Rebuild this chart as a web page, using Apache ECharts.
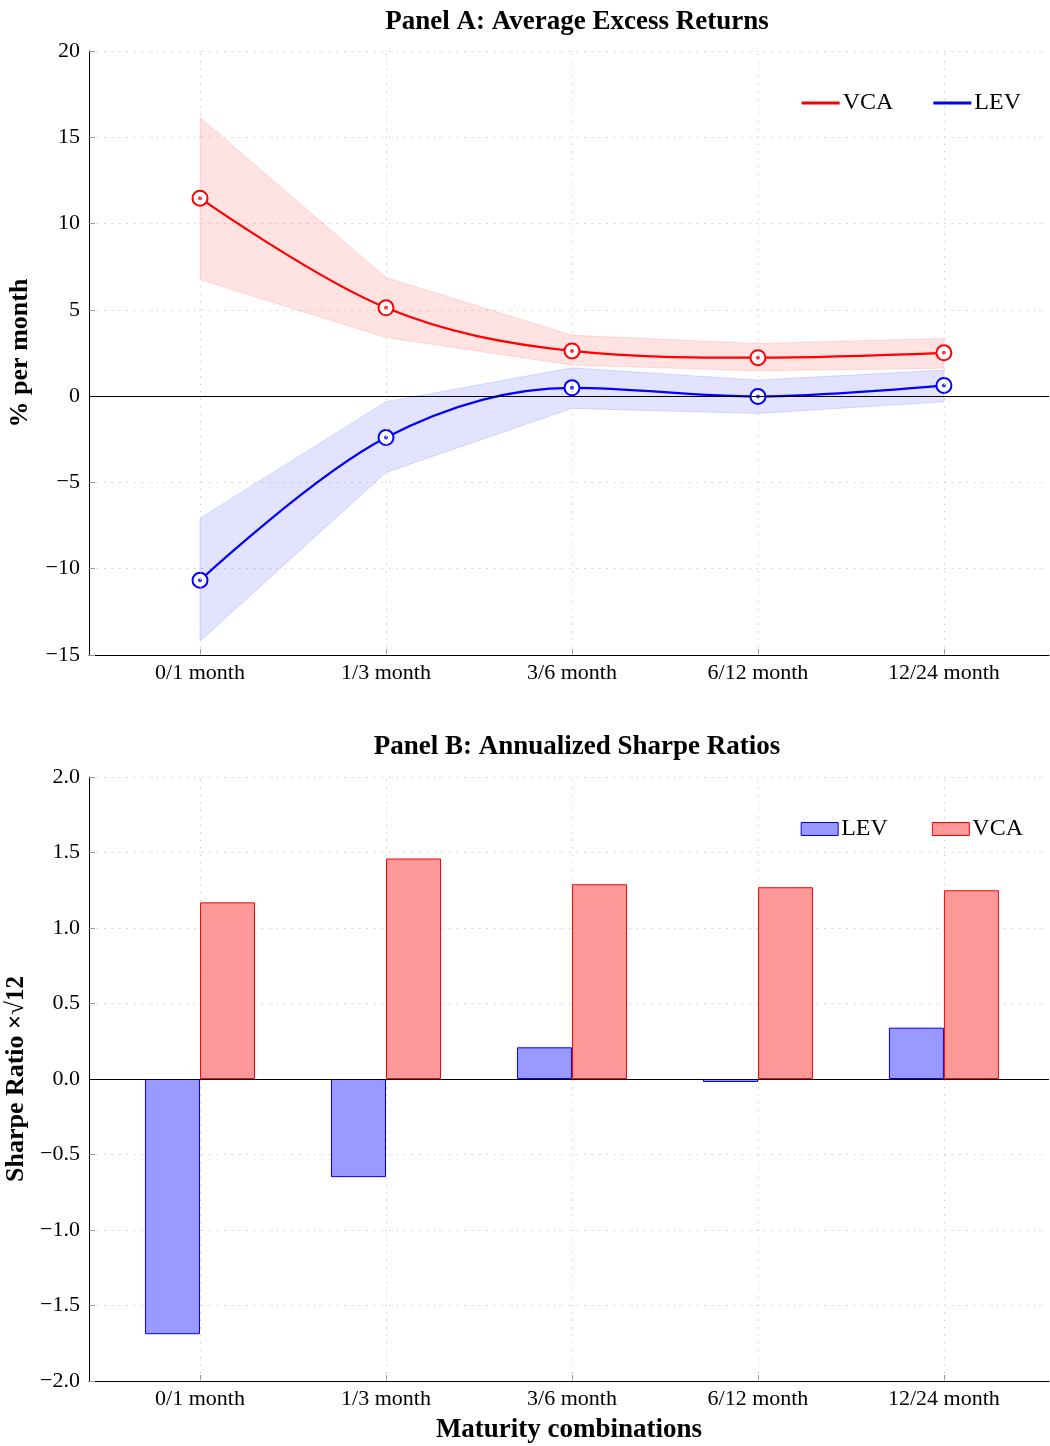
<!DOCTYPE html>
<html>
<head>
<meta charset="utf-8">
<script src="https://cdn.jsdelivr.net/npm/echarts@6/dist/echarts.min.js"></script>
<style>html,body{margin:0;padding:0;background:#fff}#c{width:1050px;height:1446px}</style>
</head>
<body>
<div id="c"></div>
<script>
// ---- data ----
const categories = ['0/1 month', '1/3 month', '3/6 month', '6/12 month', '12/24 month'];
// Panel A: average excess returns (% per month) with confidence bands
const vcaMean  = [11.47, 5.12, 2.62, 2.23, 2.51];
const vcaUpper = [16.15, 6.87, 3.53, 3.05, 3.34];
const vcaLower = [6.75, 3.40, 1.80, 1.47, 1.62];
const levMean  = [-10.67, -2.40, 0.48, -0.02, 0.62];
const levUpper = [-7.07, -0.32, 1.64, 0.93, 1.51];
const levLower = [-14.20, -4.42, -0.71, -1.00, -0.33];
// Panel B: annualized Sharpe ratios
const levSharpe = [-1.69, -0.65, 0.21, -0.02, 0.34];
const vcaSharpe = [1.17, 1.46, 1.29, 1.27, 1.25];
// tick labels
const yTicksA = [-15, -10, -5, 0, 5, 10, 15, 20];
const yTicksB = [-2.0, -1.5, -1.0, -0.5, 0.0, 0.5, 1.0, 1.5, 2.0];

// ---- chart ----
const FONT = 'Liberation Serif';
const idx = categories.map((c, i) => i);
const pairs = arr => arr.map((v, i) => [i, v]);
const minus = s => String(s).replace('-', '\u2212');

function bandSeries(lower, upper, fill, stroke) {
  return {
    type: 'custom', xAxisIndex: 0, yAxisIndex: 0, z: 1, silent: true,
    data: lower.map((v, i) => [i, v, upper[i]]),
    encode: { x: 0, y: [1, 2] },
    renderItem: function (params, api) {
      if (params.dataIndex !== 0) return null;
      const pts = [];
      for (let i = 0; i < upper.length; i++) pts.push(api.coord([i, upper[i]]));
      for (let i = lower.length - 1; i >= 0; i--) pts.push(api.coord([i, lower[i]]));
      return { type: 'polygon', shape: { points: pts }, style: { fill: fill, stroke: stroke, lineWidth: 1 } };
    }
  };
}

const gridLineStyle = { color: '#cfcfcf', type: [1.5, 6], width: 1 };
const vGrid = idx.map(i => ({ xAxis: i, lineStyle: gridLineStyle }));
const zeroLine = { yAxis: 0, lineStyle: { color: '#000', type: 'solid', width: 1 } };
const refLinesA = { silent: true, symbol: 'none', label: { show: false }, data: vGrid.concat([zeroLine]) };
const refLinesB = { silent: true, symbol: 'none', label: { show: false }, z: 1, data: vGrid };
const zeroLinesB = { silent: true, symbol: 'none', label: { show: false }, z: 5, data: [zeroLine] };

function xAxisDef(gridIndex) {
  return {
    type: 'value', gridIndex: gridIndex, min: -0.597, max: 4.565,
    axisLine: { onZero: false, lineStyle: { color: '#000', width: 1 } },
    axisTick: { customValues: idx, inside: true, length: 6, lineStyle: { color: '#999' } },
    axisLabel: { customValues: idx, formatter: v => categories[Math.round(v)], fontFamily: FONT, fontSize: 22, color: '#000', margin: 7 },
    splitLine: { show: false }
  };
}
function yAxisDef(gridIndex, min, max, interval, fmt, name) {
  return {
    type: 'value', gridIndex: gridIndex, min: min, max: max, interval: interval,
    axisLine: { show: true, onZero: false, lineStyle: { color: '#000', width: 1 } },
    axisTick: { show: true, inside: true, length: 6, lineStyle: { color: '#999' } },
    axisLabel: { formatter: fmt, fontFamily: FONT, fontSize: 22, color: '#000', margin: 9 },
    splitLine: { show: true, lineStyle: gridLineStyle },
    name: name, nameLocation: 'middle', nameGap: 56, nameRotate: 90,
    nameTextStyle: {
      fontFamily: FONT, fontSize: 26, fontWeight: 'bold', color: '#000',
      rich: {
        b: { fontFamily: FONT, fontSize: 26, fontWeight: 'bold', color: '#000' },
        n: { fontFamily: FONT, fontSize: 25, color: '#000' }
      }
    }
  };
}

const option = {
  animation: false,
  backgroundColor: '#fff',
  title: [
    { text: 'Panel A: Average Excess Returns', left: 572, textAlign: 'center', top: 4,
      textStyle: { fontFamily: FONT, fontSize: 27, fontWeight: 'bold', color: '#000' } },
    { text: 'Panel B: Annualized Sharpe Ratios', left: 572, textAlign: 'center', top: 729,
      textStyle: { fontFamily: FONT, fontSize: 27, fontWeight: 'bold', color: '#000' } }
  ],
  legend: [
    { top: 86, right: 24, itemGap: 40, itemWidth: 38, itemHeight: 3, icon: 'rect',
      textStyle: { fontFamily: FONT, fontSize: 24, color: '#000', padding: [0, 0, 0, -2] },
      data: [
        { name: 'VCA', itemStyle: { color: '#ff0000' } },
        { name: 'LEV', itemStyle: { color: '#0000ff' } }
      ] },
    { top: 812, right: 22, itemGap: 44, itemWidth: 37, itemHeight: 13, icon: 'rect',
      formatter: n => n.replace('_B', ''),
      textStyle: { fontFamily: FONT, fontSize: 24, color: '#000', padding: [0, 0, 0, -2] },
      data: [
        { name: 'LEV_B', itemStyle: { color: '#9999ff', borderColor: '#0000ff', borderWidth: 1 } },
        { name: 'VCA_B', itemStyle: { color: '#ff9999', borderColor: '#ff0000', borderWidth: 1 } }
      ] }
  ],
  grid: [
    { left: 89, top: 51, width: 960, height: 604, containLabel: false, outerBoundsMode: 'none' },
    { left: 89, top: 777, width: 960, height: 604, containLabel: false, outerBoundsMode: 'none' }
  ],
  xAxis: [
    xAxisDef(0),
    Object.assign(xAxisDef(1), { name: 'Maturity combinations', nameLocation: 'middle', nameGap: 36,
      nameTextStyle: { fontFamily: FONT, fontSize: 27, fontWeight: 'bold', color: '#000' } })
  ],
  yAxis: [
    yAxisDef(0, -15, 20, 5, v => minus(v), '% per month'),
    yAxisDef(1, -2, 2, 0.5, v => minus(v.toFixed(1)), '{b|Sharpe Ratio} {n|\u00d7\u221a12}')
  ],
  series: [
    bandSeries(vcaLower, vcaUpper, 'rgba(255,0,0,0.11)', 'rgba(255,0,0,0.12)'),
    bandSeries(levLower, levUpper, 'rgba(0,0,255,0.11)', 'rgba(0,0,255,0.12)'),
    { name: 'VCA', type: 'line', xAxisIndex: 0, yAxisIndex: 0, data: pairs(vcaMean), smooth: 0.35, z: 3,
      lineStyle: { color: '#ff0000', width: 2.2 }, itemStyle: { color: '#ff0000', borderWidth: 1.1 },
      symbol: 'emptyCircle', symbolSize: 15, markLine: refLinesA },
    { name: 'LEV', type: 'line', xAxisIndex: 0, yAxisIndex: 0, data: pairs(levMean), smooth: 0.35, z: 3,
      lineStyle: { color: '#0000ff', width: 2.2 }, itemStyle: { color: '#0000ff', borderWidth: 1.1 },
      symbol: 'emptyCircle', symbolSize: 15 },
    { name: 'VCAdot', type: 'scatter', xAxisIndex: 0, yAxisIndex: 0, data: pairs(vcaMean), z: 4,
      symbolSize: 4, itemStyle: { color: '#ff0000' }, silent: true },
    { name: 'LEVdot', type: 'scatter', xAxisIndex: 0, yAxisIndex: 0, data: pairs(levMean), z: 4,
      symbolSize: 4, itemStyle: { color: '#0000ff' }, silent: true },
    { name: 'refB', type: 'scatter', xAxisIndex: 1, yAxisIndex: 1, data: pairs(vcaSharpe), symbolSize: 0,
      silent: true, z: 1, markLine: refLinesB },
    { name: 'zeroB', type: 'scatter', xAxisIndex: 1, yAxisIndex: 1, data: pairs(levSharpe), symbolSize: 0,
      silent: true, z: 5, markLine: zeroLinesB },
    { name: 'LEV_B', type: 'bar', xAxisIndex: 1, yAxisIndex: 1, data: pairs(levSharpe), barWidth: 55, barGap: '0%', z: 2,
      itemStyle: { color: '#9999ff', borderColor: '#0000ff', borderWidth: 1 } },
    { name: 'VCA_B', type: 'bar', xAxisIndex: 1, yAxisIndex: 1, data: pairs(vcaSharpe), barWidth: 55, barGap: '0%', z: 2,
      itemStyle: { color: '#ff9999', borderColor: '#ff0000', borderWidth: 1 } }
  ]
};
const chart = echarts.init(document.getElementById('c'), null, { renderer: 'canvas' });
chart.setOption(option);
</script>
</body>
</html>
